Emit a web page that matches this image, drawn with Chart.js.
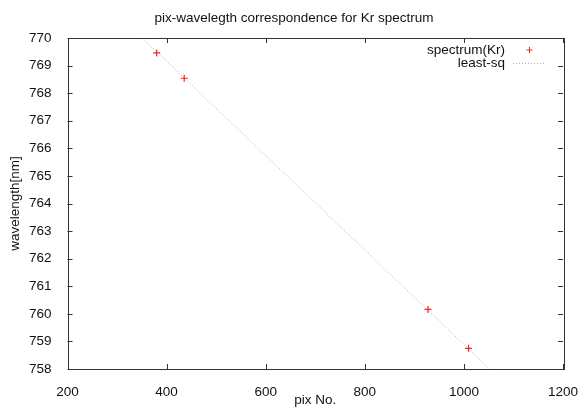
<!DOCTYPE html>
<html>
<head>
<meta charset="utf-8">
<script src="https://cdn.jsdelivr.net/npm/chart.js@4"></script>
<style>
  html, body { margin: 0; padding: 0; background: #fff; }
  #wrap { width: 588px; height: 409px; }
</style>
</head>
<body>
<div id="wrap"><canvas id="chart"></canvas></div>
<script>
// measured lines of Kr spectrum
const pixNo = [380, 435.5, 927.5, 1009.5];
const wavelength = [769.46, 768.54, 760.16, 758.75];

// least-sq fit line, end points
const fitX = [351, 1052];
const fitY = [770.0, 758.0];

const xTicks = [200, 400, 600, 800, 1000, 1200];
const yTicks = [758, 759, 760, 761, 762, 763, 764, 765, 766, 767, 768, 769, 770];

const TITLE = 'pix-wavelegth correspondence for Kr spectrum';
const FONT = 'Liberation Sans, Arial, Helvetica, sans-serif';
const AXIS = '#333';

/* inward ticks on all four sides, gnuplot style */
const tickPlugin = {
  id: 'inTicks',
  afterDatasetsDraw(chart) {
    const { ctx, chartArea: a, scales } = chart;
    const len = 5;
    ctx.save();
    ctx.strokeStyle = AXIS;
    ctx.lineWidth = 1;
    ctx.beginPath();
    xTicks.forEach(v => {
      const x = Math.round(scales.x.getPixelForValue(v)) + 0.5;
      ctx.moveTo(x, a.bottom); ctx.lineTo(x, a.bottom - len);
      ctx.moveTo(x, a.top); ctx.lineTo(x, a.top + len);
    });
    yTicks.forEach(v => {
      const y = Math.round(scales.y.getPixelForValue(v)) + 0.5;
      ctx.moveTo(a.left, y); ctx.lineTo(a.left + len, y);
      ctx.moveTo(a.right, y); ctx.lineTo(a.right - len, y);
    });
    ctx.stroke();
    // box round the plot
    ctx.strokeRect(Math.round(a.left) + 0.5, Math.round(a.top) + 0.5,
      Math.round(a.right - a.left), Math.round(a.bottom - a.top));
    ctx.restore();
  }
};

/* title centred on the page, legend at top right inside the plot */
const keyPlugin = {
  id: 'gnuKey',
  afterDraw(chart) {
    const { ctx, chartArea: a } = chart;
    ctx.save();
    ctx.font = '13.5px ' + FONT;
    ctx.fillStyle = '#111';
    ctx.textAlign = 'center';
    ctx.textBaseline = 'middle';
    ctx.fillText(TITLE, chart.width / 2, 18);

    const textRight = a.right - 58;
    const sampleL = a.right - 50, sampleR = a.right - 17;
    ctx.font = '13.5px ' + FONT;
    ctx.textAlign = 'right';
    ctx.fillText('spectrum(Kr)', textRight, a.top + 12);
    ctx.fillText('least-sq', textRight, a.top + 25);
    // marker
    const mx = (sampleL + sampleR) / 2, my = a.top + 12;
    ctx.strokeStyle = '#ff2020';
    ctx.lineWidth = 1;
    ctx.beginPath();
    ctx.moveTo(mx - 3, my); ctx.lineTo(mx + 3, my);
    ctx.moveTo(mx, my - 3); ctx.lineTo(mx, my + 3);
    ctx.stroke();
    // dotted sample
    ctx.strokeStyle = '#b0b0b0';
    ctx.setLineDash([1, 2]);
    ctx.beginPath();
    ctx.moveTo(sampleL, a.top + 25.5); ctx.lineTo(sampleR, a.top + 25.5);
    ctx.stroke();
    ctx.restore();
  }
};

new Chart(document.getElementById('chart'), {
  type: 'scatter',
  data: {
    datasets: [
      {
        label: 'spectrum(Kr)',
        data: pixNo.map((x, i) => ({ x: x, y: wavelength[i] })),
        pointStyle: 'cross',
        pointRadius: 3.5,
        borderColor: '#ff2020',
        backgroundColor: '#ff2020',
        borderWidth: 1.2,
        showLine: false
      },
      {
        label: 'least-sq',
        data: fitX.map((x, i) => ({ x: x, y: fitY[i] })),
        showLine: true,
        borderColor: '#b0b0b0',
        borderWidth: 1,
        borderDash: [1, 2],
        pointRadius: 0
      }
    ]
  },
  options: {
    responsive: true,
    maintainAspectRatio: false,
    animation: false,
    layout: { padding: { left: 0, right: 25, top: 38, bottom: 0 } },
    plugins: {
      legend: { display: false },
      tooltip: { enabled: false },
      title: { display: false }
    },
    scales: {
      x: {
        type: 'linear',
        min: 200,
        max: 1200,
        grid: { display: false },
        border: { display: false },
        afterFit(s) { s.height = 40; },
        ticks: {
          stepSize: 200,
          padding: 7,
          maxRotation: 0,
          color: '#111',
          font: { family: FONT, size: 13.5 },
          callback: v => String(v)
        },
        title: {
          display: true,
          text: 'pix No.',
          color: '#111',
          font: { family: FONT, size: 13.5 },
          padding: { top: 0, bottom: 1 }
        }
      },
      y: {
        type: 'linear',
        min: 758,
        max: 770,
        grid: { display: false },
        border: { display: false },
        afterFit(s) { s.width = 67.5; },
        ticks: {
          stepSize: 1,
          padding: 8,
          color: '#111',
          font: { family: FONT, size: 13.5 },
          callback: v => String(v)
        },
        title: {
          display: true,
          text: 'wavelength[nm]',
          color: '#111',
          font: { family: FONT, size: 13.5 },
          padding: { top: 7, bottom: 0 }
        }
      }
    }
  },
  plugins: [tickPlugin, keyPlugin]
});
</script>
</body>
</html>
